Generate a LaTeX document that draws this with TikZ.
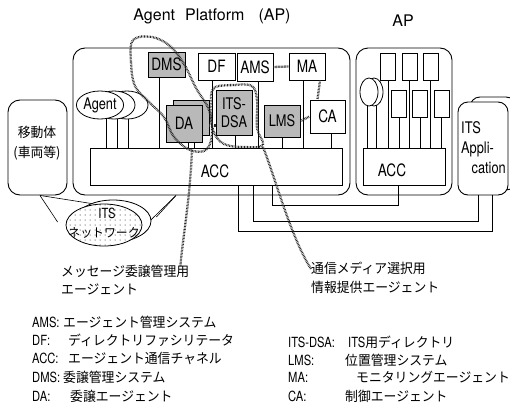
\documentclass[tikz,border=0pt]{standalone}
\usepackage{fontspec}
\setmainfont{TeX Gyre Heros}[FakeStretch=0.8]
\newfontfamily\titlefont{TeX Gyre Heros}
\newfontfamily\jp{Noto Sans CJK JP}[FakeStretch=0.95]
\usetikzlibrary{shapes.geometric,backgrounds,patterns.meta}
\newcommand\mylbl{\fontsize{17}{18}\selectfont}
\newcommand\mylbls{\fontsize{16}{18}\selectfont}
\newcommand\myleg{\fontsize{14}{16}\selectfont}
\newcommand\myapp{\fontsize{16}{18}\selectfont}
\newcommand\myag{\fontsize{16}{16}\selectfont}
\newcommand\myjp{\jp\fontsize{13.5}{16}\selectfont}
\newcommand\myjps{\jp\fontsize{12.5}{14}\selectfont}
\newcommand\myttl{\titlefont\fontsize{16}{18}\selectfont}
\begin{document}
\begin{tikzpicture}[x=1pt,y=-1pt,
  box/.style={draw, fill=white, line width=0.8pt, inner sep=0pt, font=\mylbl},
  gbox/.style={box, fill=gray!55},
  cont/.style={draw, line width=0.9pt, rounded corners=12pt, inner sep=0pt},
  wire/.style={line width=0.6pt},
  hatch/.style={line width=2.3pt, dash pattern=on 0.7pt off 0.8pt, black!85},
  txt/.style={inner sep=0pt, anchor=base west},
  ell/.style={draw, ellipse, fill=white, line width=0.8pt, inner sep=0pt},
]
\useasboundingbox (0,0) rectangle (510,415);

% titles
\node[font=\myttl, inner sep=0pt] (title) at (212,16) {Agent\hspace{10pt}Platform\hspace{14pt}(AP)};
\node[font=\myttl, inner sep=0pt] (title2) at (403,21) {AP};

% containers
\node[cont, minimum width=277pt, minimum height=147pt] (ap1) at (211.5,121.5) {};
\node[cont, minimum width=96pt, minimum height=147pt] (ap2) at (404,121.5) {};
\node[cont, minimum width=59pt, minimum height=95pt] (mob) at (37.5,147.5) {};
\node[cont, rounded corners=10pt, minimum width=46pt, minimum height=93pt] (appb) at (493,143.5) {};
\node[cont, rounded corners=10pt, fill=white, minimum width=50pt, minimum height=93pt] (app) at (483,148.5) {};

\node[font=\myjp] (mob1) at (37,132) {移動体};
\node[font=\myjp] (mob2) at (37,153) {(車両等)};
\node[txt, font=\myapp] (its1) at (461,133) {ITS};
\node[txt, font=\myapp] (its2) at (461,153) {Appli-};
\node[txt, anchor=base east, font=\myapp] (its3) at (506,173) {cation};

% ACC bars
\node[box, minimum width=252pt, minimum height=37pt] (acc) at (216,166.5) {};
\node[font=\mylbl] (acct) at (215,171) {ACC};
\node[box, minimum width=82pt, minimum height=37pt] (acc2) at (404,166.5) {};
\node[font=\mylbl] (acc2t) at (392,170) {ACC};

% agents and services in AP
\node[ell, minimum width=42pt, minimum height=28pt] (ag3) at (127,105) {};
\node[ell, minimum width=42pt, minimum height=28pt] (ag2) at (114,105) {};
\node[ell, minimum width=42pt, minimum height=28pt, font=\myag] (agent) at (100,105) {Agent};

\node[gbox, minimum width=37pt, minimum height=25pt] (dms) at (166.5,64.5) {DMS};
\node[box, minimum width=37pt, minimum height=27pt] (df) at (216.5,66.5) {DF};
\node[box, minimum width=36pt, minimum height=28pt] (ams) at (255,67) {AMS};
\node[box, minimum width=36pt, minimum height=27pt] (ma) at (307,66.5) {MA};
\node[box, minimum width=35pt, minimum height=33pt] (ca) at (327.5,116.5) {CA};
\node[gbox, minimum width=36pt, minimum height=32pt, font=\mylbls] (lms) at (282,121) {LMS};
\node[gbox, minimum width=36pt, minimum height=45pt, align=center, font=\mylbls] (dsa) at (234,112.5) {ITS-\\DSA};
\node[gbox, minimum width=36pt, minimum height=35pt] (dab) at (191,117.5) {};
\node[gbox, minimum width=36pt, minimum height=37pt] (da) at (184,123.5) {DA};

% AP2 contents
\node[ell, minimum width=18pt, minimum height=28pt] (e2) at (374,92) {};
\node[ell, minimum width=18pt, minimum height=28pt] (e1) at (369,92) {};
\node[box, minimum width=15pt, minimum height=27pt] (r1) at (388,66.5) {};
\node[box, minimum width=15pt, minimum height=27pt] (r2) at (409.5,66.5) {};
\node[box, minimum width=15pt, minimum height=27pt] (r3) at (430.5,66.5) {};
\node[box, minimum width=15pt, minimum height=27pt] (r4) at (399,103.5) {};
\node[box, minimum width=15pt, minimum height=27pt] (r5) at (420,103.5) {};
\node[box, minimum width=15pt, minimum height=27pt] (r6) at (441.5,103.5) {};

% ITS network
\node[ell, minimum width=76pt, minimum height=42pt] (net2) at (113,221) {};
\node[ell, minimum width=76pt, minimum height=42pt, postaction={pattern={Dots[distance=5pt,radius=0.5pt]}}] (net) at (104,225) {};
\node[font=\myleg, inner sep=0pt] (nett1) at (107,213) {ITS};
\node[font=\myjps, inner sep=0pt] (nett2) at (104,233) {ネットワーク};

% labels
\node[txt, font=\myjp] (lab1a) at (61,276) {メッセージ委譲管理用};
\node[txt, font=\myjp] (lab1b) at (61,294) {エージェント};
\node[txt, font=\myjp] (lab2a) at (311,273) {通信メディア選択用};
\node[txt, font=\myjp] (lab2b) at (311,292) {情報提供エージェント};

% legend left
\node[txt, font=\myleg] (k1) at (32,327) {AMS:};
\node[txt, font=\myjp] (k1j) at (63,327) {エージェント管理システム};
\node[txt, font=\myleg] (k2) at (32,345) {DF:};
\node[txt, font=\myjp] (k2j) at (68,345) {ディレクトリファシリテータ};
\node[txt, font=\myleg] (k3) at (32,363) {ACC:};
\node[txt, font=\myjp] (k3j) at (68,363) {エージェント通信チャネル};
\node[txt, font=\myleg] (k4) at (32,382) {DMS:};
\node[txt, font=\myjp] (k4j) at (63,382) {委譲管理システム};
\node[txt, font=\myleg] (k5) at (32,401) {DA:};
\node[txt, font=\myjp] (k5j) at (70,401) {委譲エージェント};
% legend right
\node[txt, font=\myleg] (m1) at (288,347) {ITS-DSA:};
\node[txt, font=\myleg] (m1j) at (348,347) {ITS{\myjp 用ディレクトリ}};
\node[txt, font=\myleg] (m2) at (288,365) {LMS:};
\node[txt, font=\myjp] (m2j) at (345,365) {位置管理システム};
\node[txt, font=\myleg] (m3) at (288,382) {MA:};
\node[txt, font=\myjp] (m3j) at (356,382) {モニタリングエージェント};
\node[txt, font=\myleg] (m4) at (288,401) {CA:};
\node[txt, font=\myjp] (m4j) at (345,401) {制御エージェント};

% wires behind
\begin{scope}[on background layer]
  \foreach \n/\dx in {dms/-7.5, df/-4.5, ams/3, ma/-4, ca/3.5, lms/0, dsa/1, da/4, da/10}
    \draw[wire] ([xshift=\dx pt]\n.south) -- ([xshift=\dx pt]\n.south |- acc.north);
  \foreach \dx in {6,17,28}
    \draw[wire] ([xshift=\dx pt]agent.center) -- ([xshift=\dx pt]agent.center |- acc.north);
  \foreach \n/\dx in {e1/-2, e2/2, r1/0, r2/0, r3/0, r4/0, r5/0, r6/0}
    \draw[wire] ([xshift=\dx pt]\n.center) -- ([xshift=\dx pt]\n.center |- acc2.north);
  \draw[wire] ([xshift=2.5pt]mob.south) -- ([xshift=-8pt,yshift=3pt]net.west);
  \draw[wire] ([xshift=2.5pt]mob.south) -- ([xshift=-12pt]net.north);
  \draw[wire] ([xshift=-35.5pt]ap1.south) -- ([xshift=5pt,yshift=4pt]net2.east);
  \draw[wire] ([xshift=-35.5pt]ap1.south) -- ([xshift=-8pt,yshift=-11pt]net.east);
\end{scope}

% connectors between platforms
\draw[wire] ([xshift=56pt]acc.south) -- ++(0,20) -| ([xshift=-6pt]acc2.south);
\draw[wire] ([xshift=37pt]acc.south) -- ++(0,36) -| ([xshift=-5pt]app.south);
\draw[wire] ([xshift=22pt]acc.south) -- ++(0,46) -| ([xshift=9pt]app.south);

% hatched links
\draw[hatch] (ams.east) -- (ma.west);
\draw[hatch] ([xshift=13pt]ma.south) -- ([xshift=-10pt]ca.north);
\draw[hatch] (lms.east) -- (ca.west);
\draw[hatch] ([yshift=-8pt]dab.east) -- ([yshift=-8pt]dab.east -| dsa.west);

% dotted loops
\draw[hatch] plot[smooth cycle, tension=0.6] coordinates {(133,40) (131,62) (135,86) (149,102) (164,117) (174,137) (190,150) (206,150) (212,134) (209,110) (196,88) (184,64) (170,46) (152,37)};
\draw[hatch] (192,150) .. controls (190,200) and (183,235) .. ([xshift=-9pt,yshift=-2pt]lab1a.north east);
\draw[hatch] plot[smooth cycle, tension=0.6] coordinates {(214,88) (235,85) (252,86) (257,100) (257,128) (263,145) (245,147) (224,144) (213,130) (211,105)};
\draw[hatch] (263,147) .. controls (276,180) and (290,235) .. ([yshift=4pt]lab2a.base west);
\end{tikzpicture}
\end{document}
